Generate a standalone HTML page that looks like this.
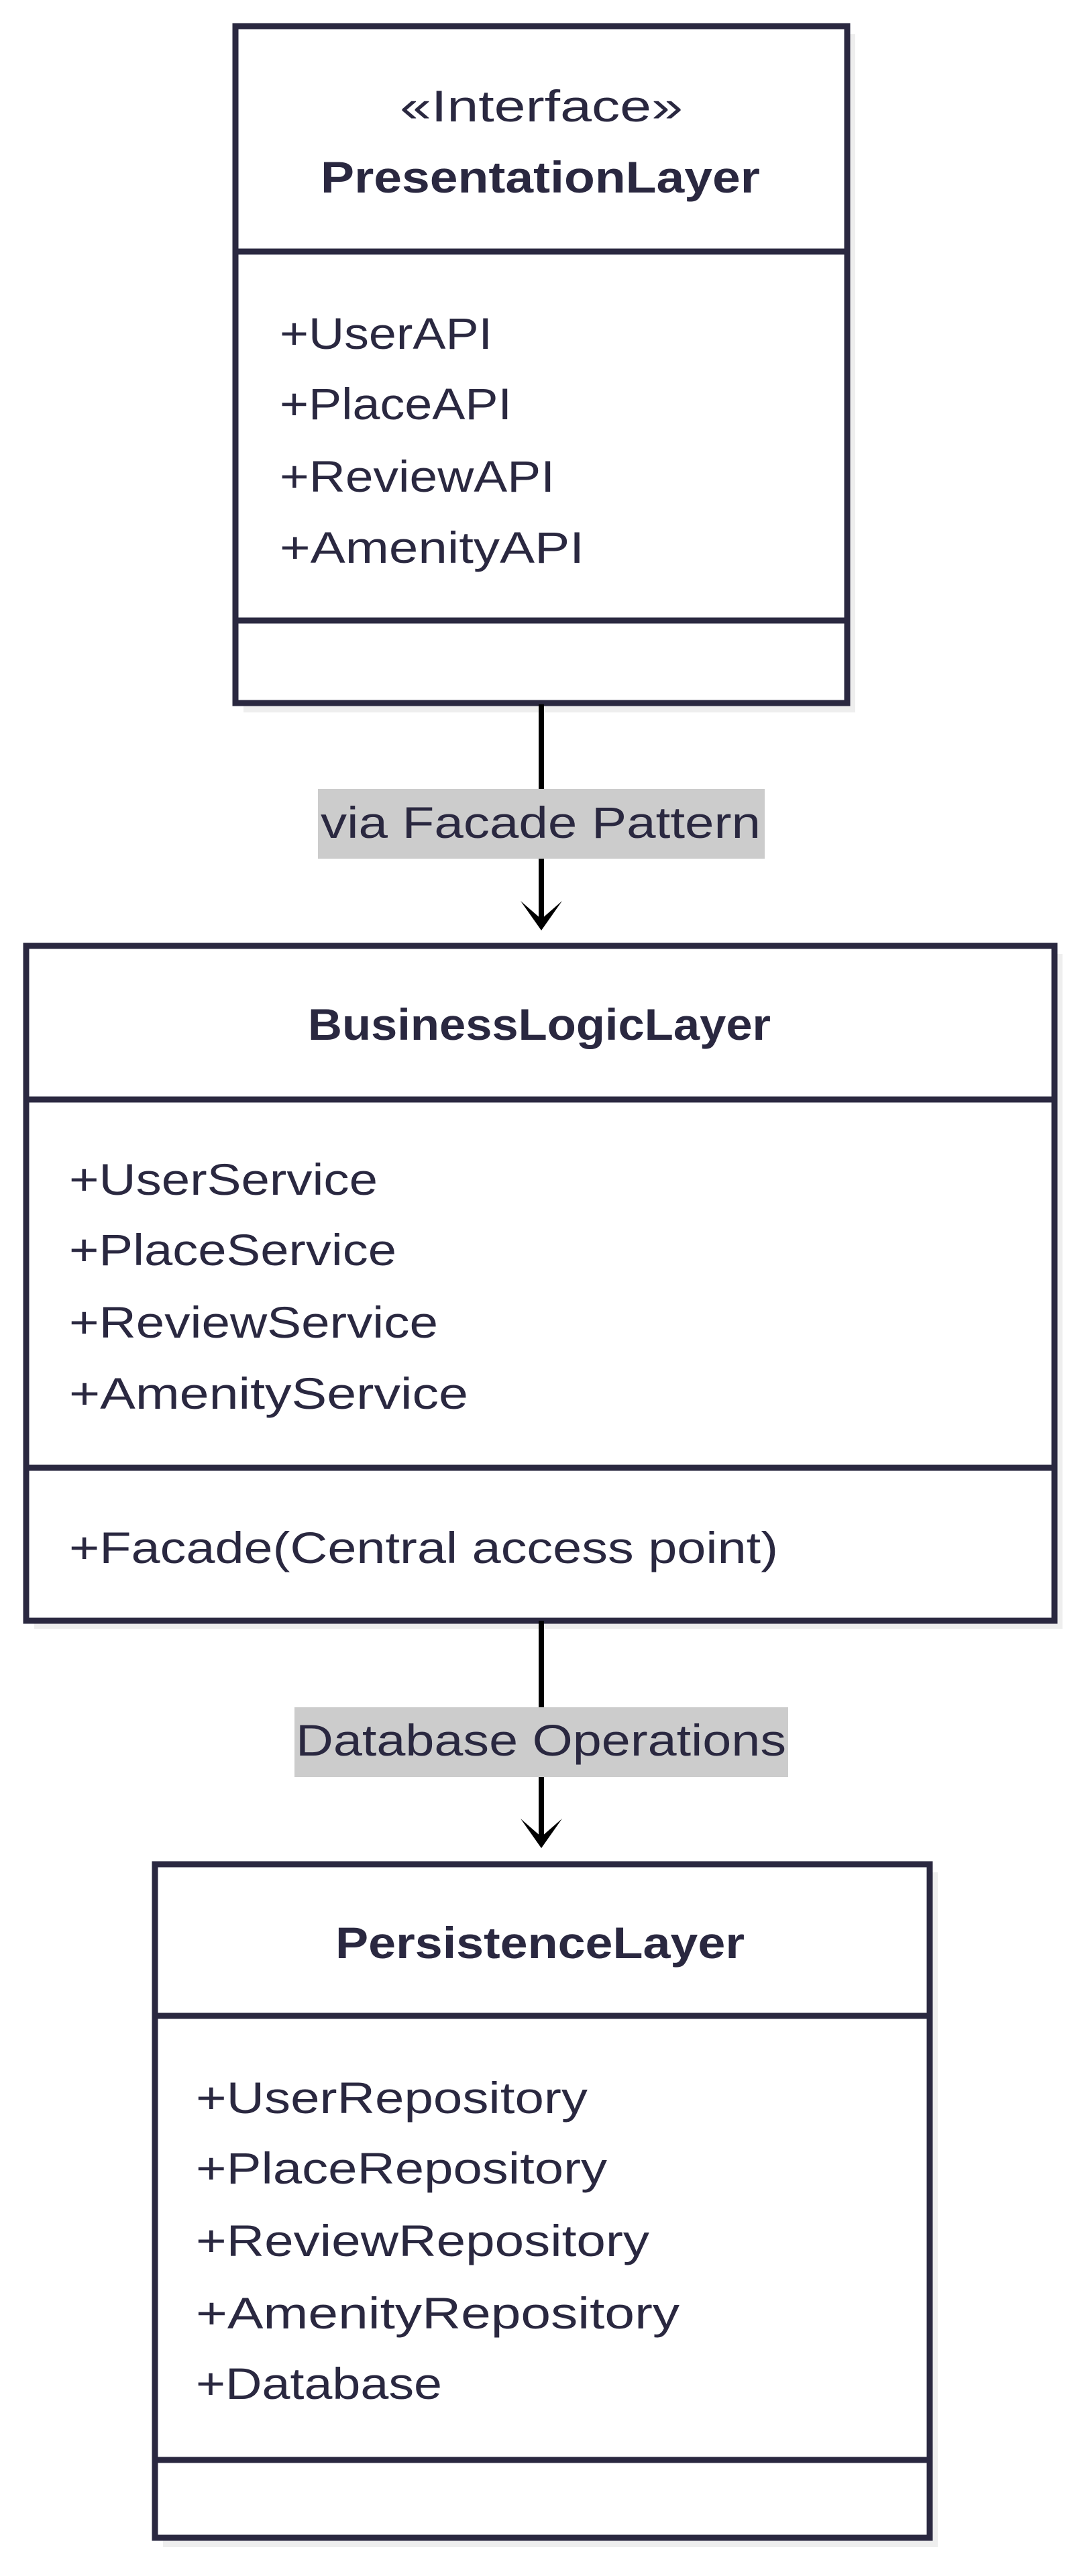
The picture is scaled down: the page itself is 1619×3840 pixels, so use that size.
<!DOCTYPE html>
<html><head><meta charset="utf-8"><style>
html,body{margin:0;padding:0;background:#fff;}
svg{display:block}
text{font-family:"Liberation Sans",sans-serif;fill:#2a2840;font-size:66px}
.b{font-weight:bold}
</style></head><body>
<svg width="1619" height="3840" viewBox="0 0 1619 3840" xmlns="http://www.w3.org/2000/svg">
<!-- shadows -->
<rect x="363" y="51" width="912" height="1011" fill="#eeeeee"/>
<rect x="51" y="1422" width="1533" height="1006" fill="#eeeeee"/>
<rect x="243" y="2791" width="1155" height="1006" fill="#eeeeee"/>

<!-- Presentation -->
<rect x="351" y="39" width="912" height="1009" fill="#fff" stroke="#2a2840" stroke-width="9"/>
<line x1="351" y1="375" x2="1263" y2="375" stroke="#2a2840" stroke-width="9"/>
<line x1="351" y1="925" x2="1263" y2="925" stroke="#2a2840" stroke-width="9"/>
<text x="596" y="181" textLength="422" lengthAdjust="spacingAndGlyphs">«Interface»</text>
<text class="b" x="478" y="287" textLength="655" lengthAdjust="spacingAndGlyphs">PresentationLayer</text>
<text x="417" y="520" textLength="317" lengthAdjust="spacingAndGlyphs">+UserAPI</text>
<text x="417" y="625" textLength="346" lengthAdjust="spacingAndGlyphs">+PlaceAPI</text>
<text x="417" y="733" textLength="410" lengthAdjust="spacingAndGlyphs">+ReviewAPI</text>
<text x="417" y="839" textLength="454" lengthAdjust="spacingAndGlyphs">+AmenityAPI</text>

<!-- arrow 1 -->
<line x1="807" y1="1050" x2="807" y2="1380" stroke="#000" stroke-width="8"/>
<path d="M776 1343 L807 1387 L838 1343 L807 1370 Z" fill="#000"/>
<rect x="474" y="1176" width="666" height="104" fill="#cccccc"/>
<text x="478" y="1249" textLength="656" lengthAdjust="spacingAndGlyphs">via Facade Pattern</text>

<!-- Business -->
<rect x="39" y="1410" width="1533" height="1006" fill="#fff" stroke="#2a2840" stroke-width="9"/>
<line x1="39" y1="1639" x2="1572" y2="1639" stroke="#2a2840" stroke-width="9"/>
<line x1="39" y1="2188" x2="1572" y2="2188" stroke="#2a2840" stroke-width="9"/>
<text class="b" x="459" y="1550" textLength="690" lengthAdjust="spacingAndGlyphs">BusinessLogicLayer</text>
<text x="103" y="1781" textLength="460" lengthAdjust="spacingAndGlyphs">+UserService</text>
<text x="103" y="1886" textLength="488" lengthAdjust="spacingAndGlyphs">+PlaceService</text>
<text x="103" y="1994" textLength="550" lengthAdjust="spacingAndGlyphs">+ReviewService</text>
<text x="103" y="2100" textLength="595" lengthAdjust="spacingAndGlyphs">+AmenityService</text>
<text x="103" y="2330" textLength="1057" lengthAdjust="spacingAndGlyphs">+Facade(Central access point)</text>

<!-- arrow 2 -->
<line x1="807" y1="2416" x2="807" y2="2748" stroke="#000" stroke-width="8"/>
<path d="M776 2711 L807 2755 L838 2711 L807 2738 Z" fill="#000"/>
<rect x="439" y="2545" width="736" height="104" fill="#cccccc"/>
<text x="441" y="2617" textLength="731" lengthAdjust="spacingAndGlyphs">Database Operations</text>

<!-- Persistence -->
<rect x="231" y="2779" width="1155" height="1004" fill="#fff" stroke="#2a2840" stroke-width="9"/>
<line x1="231" y1="3005" x2="1386" y2="3005" stroke="#2a2840" stroke-width="9"/>
<line x1="231" y1="3667" x2="1386" y2="3667" stroke="#2a2840" stroke-width="9"/>
<text class="b" x="500" y="2919" textLength="610" lengthAdjust="spacingAndGlyphs">PersistenceLayer</text>
<text x="292" y="3150" textLength="584" lengthAdjust="spacingAndGlyphs">+UserRepository</text>
<text x="292" y="3255" textLength="613" lengthAdjust="spacingAndGlyphs">+PlaceRepository</text>
<text x="292" y="3363" textLength="676" lengthAdjust="spacingAndGlyphs">+ReviewRepository</text>
<text x="292" y="3471" textLength="721" lengthAdjust="spacingAndGlyphs">+AmenityRepository</text>
<text x="292" y="3576" textLength="367" lengthAdjust="spacingAndGlyphs">+Database</text>
</svg>
</body></html>
